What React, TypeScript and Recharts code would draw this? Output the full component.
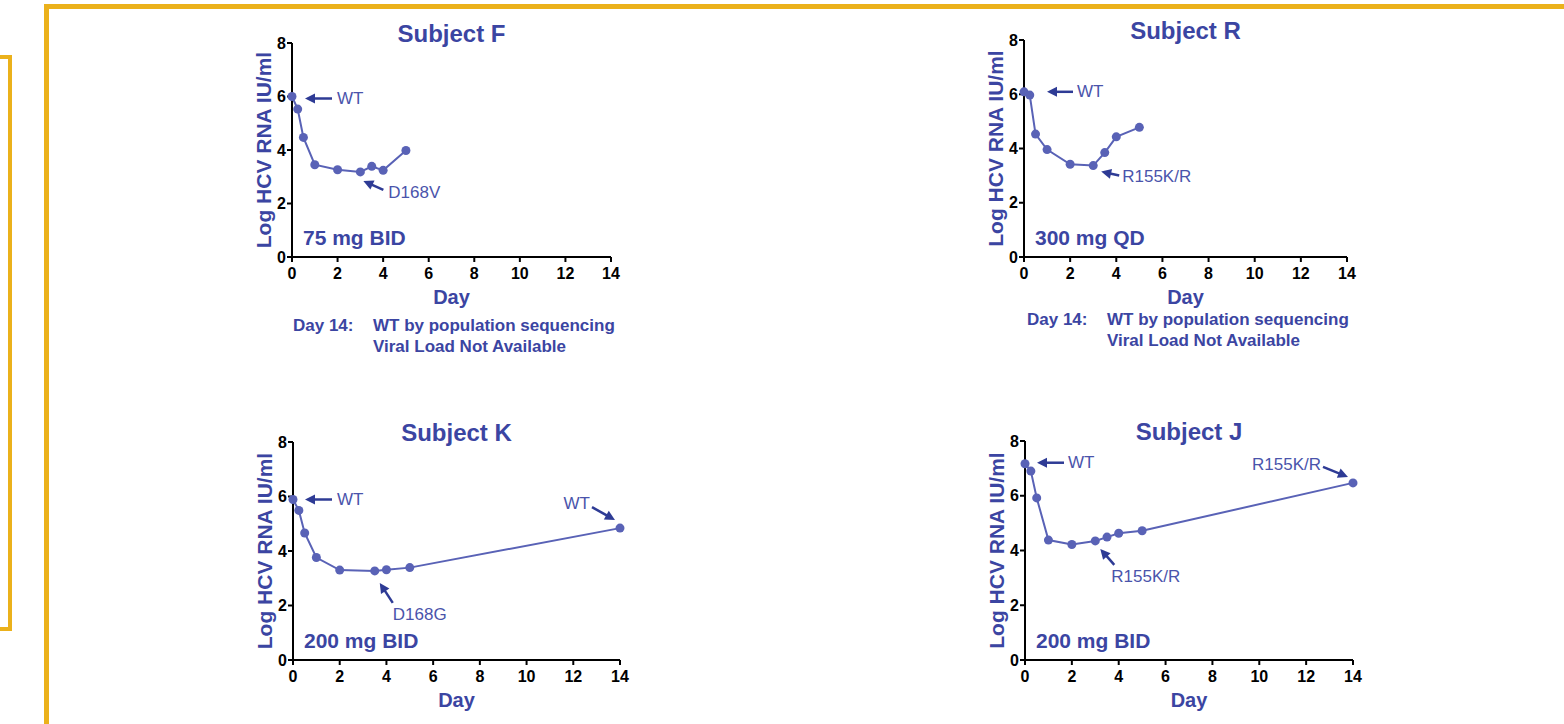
import { LineChart, Line, XAxis, YAxis, ReferenceDot } from 'recharts'

// HCV RNA viral load by day, one small series per subject
const DAYS_F = [0, 0.25, 0.5, 1, 2, 3, 3.5, 4, 5]
const LOAD_F = [6.0, 5.53, 4.47, 3.45, 3.26, 3.18, 3.39, 3.24, 3.98]

const DAYS_R = [0, 0.25, 0.5, 1, 2, 3, 3.5, 4, 5]
const LOAD_R = [6.09, 5.97, 4.53, 3.96, 3.42, 3.37, 3.85, 4.43, 4.78]

const DAYS_K = [0, 0.25, 0.5, 1, 2, 3.5, 4, 5, 14]
const LOAD_K = [5.89, 5.49, 4.66, 3.76, 3.3, 3.27, 3.31, 3.39, 4.84]

const DAYS_J = [0, 0.25, 0.5, 1, 2, 3, 3.5, 4, 5, 14]
const LOAD_J = [7.17, 6.9, 5.92, 4.38, 4.22, 4.35, 4.49, 4.63, 4.72, 6.47]

const X_TICKS = [0, 2, 4, 6, 8, 10, 12, 14]
const Y_TICKS = [0, 2, 4, 6, 8]

const FONT = "'Liberation Sans', Arial, sans-serif"
const TITLE_BLUE = '#3b45a2'
const LINE_BLUE = '#5962b6'
const ARROW_BLUE = '#2e3b95'
const NOTE_BLUE = '#4a54ab'
const GOLD = '#ebb11b'

type Note = { at: number; label: string; tip: number[]; tail: number[]; text: number[]; anchor?: 'start' | 'end' }

type PanelDef = {
  title: string
  dose: string
  days: number[]
  load: number[]
  notes: Note[]
  // plot rectangle in page pixels
  x0: number
  x1: number
  y0: number
  y1: number
  day14?: number[]
}

const PANELS: PanelDef[] = [
  {
    title: 'Subject F', dose: '75 mg BID', days: DAYS_F, load: LOAD_F,
    x0: 292, x1: 611, y0: 43, y1: 257, day14: [1, 68],
    notes: [
      { at: 0, label: 'WT', tip: [13, 2], tail: [40, 2], text: [45, 2] },
      { at: 5, label: 'D168V', tip: [3, 9], tail: [23, 18], text: [28, 21] },
    ],
  },
  {
    title: 'Subject R', dose: '300 mg QD', days: DAYS_R, load: LOAD_R,
    x0: 1024, x1: 1347, y0: 40, y1: 257, day14: [3, 62],
    notes: [
      { at: 0, label: 'WT', tip: [23, 0], tail: [49, 0], text: [53, 0] },
      { at: 5, label: 'R155K/R', tip: [8, 6], tail: [26, 10], text: [29, 11] },
    ],
  },
  {
    title: 'Subject K', dose: '200 mg BID', days: DAYS_K, load: LOAD_K,
    x0: 293, x1: 620, y0: 442, y1: 660,
    notes: [
      { at: 0, label: 'WT', tip: [12, 0], tail: [39, 0], text: [44, 0] },
      { at: 5, label: 'D168G', tip: [5, 12], tail: [18, 32], text: [18, 44] },
      { at: 8, label: 'WT', tip: [-5, -8], tail: [-28, -21], text: [-30, -25], anchor: 'end' },
    ],
  },
  {
    title: 'Subject J', dose: '200 mg BID', days: DAYS_J, load: LOAD_J,
    x0: 1025, x1: 1353, y0: 441, y1: 660,
    notes: [
      { at: 0, label: 'WT', tip: [12, -1], tail: [39, -1], text: [43, -1] },
      { at: 5, label: 'R155K/R', tip: [5, 8], tail: [19, 24], text: [16, 36] },
      { at: 9, label: 'R155K/R', tip: [-5, -6], tail: [-30, -16], text: [-32, -18], anchor: 'end' },
    ],
  },
]

function Arrow({ cx, cy, note }: { cx: number; cy: number; note: Note }) {
  const tx = cx + note.tip[0]
  const ty = cy + note.tip[1]
  const sx = cx + note.tail[0]
  const sy = cy + note.tail[1]
  const len = Math.hypot(tx - sx, ty - sy)
  const ux = (tx - sx) / len
  const uy = (ty - sy) / len
  const bx = tx - ux * 10
  const by = ty - uy * 10
  const head = `${tx},${ty} ${bx - uy * 5},${by + ux * 5} ${bx + uy * 5},${by - ux * 5}`
  return (
    <g>
      <line x1={sx} y1={sy} x2={bx + ux} y2={by + uy} stroke={ARROW_BLUE} strokeWidth={2.5} />
      <polygon points={head} fill={ARROW_BLUE} />
      <text
        x={cx + note.text[0]}
        y={cy + note.text[1]}
        dominantBaseline="central"
        textAnchor={note.anchor ?? 'start'}
        fill={NOTE_BLUE}
        fontSize={17}
        fontFamily={FONT}
      >
        {note.label}
      </text>
    </g>
  )
}

const YW = 62
const MR = 20
const MT = 10
const XH = 50
const MB = 10

function TickText({ x, y, payload, anchor, dy }: any) {
  return (
    <text
      x={x}
      y={y}
      dy={dy}
      textAnchor={anchor}
      fill="#000"
      fontSize={16}
      fontWeight="bold"
      fontFamily={FONT}
    >
      {payload.value}
    </text>
  )
}

function Panel({ p }: { p: PanelDef }) {
  const data = p.days.map((day, i) => ({ day, load: p.load[i] }))
  const w = p.x1 - p.x0 + YW + MR
  const h = p.y1 - p.y0 + MT + XH + MB
  const axisLine = { stroke: '#000', strokeWidth: 2 }
  return (
    <div style={{ position: 'absolute', left: p.x0 - YW, top: p.y0 - MT }}>
      <LineChart width={w} height={h} data={data} margin={{ top: MT, right: MR, bottom: MB, left: 0 }}>
        <XAxis
          dataKey="day"
          type="number"
          domain={[0, 14]}
          ticks={X_TICKS}
          interval={0}
          height={XH}
          tick={(props: any) => <TickText {...props} anchor="middle" dy={17} />}
          tickSize={5}
          tickMargin={0}
          axisLine={axisLine}
          tickLine={axisLine}
        />
        <YAxis
          type="number"
          domain={[0, 8]}
          ticks={Y_TICKS}
          interval={0}
          width={YW}
          tick={(props: any) => <TickText {...props} anchor="end" dy={5.5} />}
          tickSize={5}
          tickMargin={1}
          axisLine={axisLine}
          tickLine={axisLine}
        />
        <Line
          type="linear"
          dataKey="load"
          stroke={LINE_BLUE}
          strokeWidth={2}
          dot={{ r: 4.5, fill: LINE_BLUE, stroke: LINE_BLUE, strokeWidth: 0 }}
          isAnimationActive={false}
        />
        {p.notes.map((n, i) => (
          <ReferenceDot
            key={i}
            x={p.days[n.at]}
            y={p.load[n.at]}
            r={0}
            ifOverflow="visible"
            shape={(props: any) => <Arrow cx={props.cx} cy={props.cy} note={n} />}
          />
        ))}
      </LineChart>
    </div>
  )
}

function Labels({ p }: { p: PanelDef }) {
  const cx = (p.x0 + p.x1) / 2
  const cy = (p.y0 + p.y1) / 2
  return (
    <g fontFamily={FONT} fontWeight="bold" fill={TITLE_BLUE}>
      <text x={cx} y={p.y0 - 10} textAnchor="middle" dominantBaseline="central" fontSize={24}>
        {p.title}
      </text>
      <text
        x={p.x0 - 29}
        y={cy}
        textAnchor="middle"
        dominantBaseline="central"
        fontSize={21}
        transform={`rotate(-90 ${p.x0 - 29} ${cy})`}
      >
        Log HCV RNA IU/ml
      </text>
      <text x={cx} y={p.y1 + 40} textAnchor="middle" dominantBaseline="central" fontSize={20}>
        Day
      </text>
      <text x={p.x0 + 11} y={p.y1 - 20} dominantBaseline="central" fontSize={21}>
        {p.dose}
      </text>
      {p.day14 && (
        <g fontSize={17}>
          <text x={p.x0 + p.day14[0]} y={p.y1 + p.day14[1]} dominantBaseline="central">
            Day 14:
          </text>
          <text x={p.x0 + p.day14[0] + 80} y={p.y1 + p.day14[1]} dominantBaseline="central">
            WT by population sequencing
          </text>
          <text x={p.x0 + p.day14[0] + 80} y={p.y1 + p.day14[1] + 21} dominantBaseline="central">
            Viral Load Not Available
          </text>
        </g>
      )}
    </g>
  )
}

export default function App() {
  return (
    <div style={{ position: 'absolute', left: 0, top: 0, width: 1564, height: 724, background: '#fff', overflow: 'hidden' }}>
      <svg width={1564} height={724} style={{ position: 'absolute', left: 0, top: 0 }}>
        <rect x={-100} y={57} width={110} height={572} fill="none" stroke={GOLD} strokeWidth={4} />
        <rect x={46.5} y={6.5} width={1700} height={900} fill="none" stroke={GOLD} strokeWidth={5} />
        {PANELS.map((p) => (
          <Labels key={p.title} p={p} />
        ))}
      </svg>
      {PANELS.map((p) => (
        <Panel key={p.title} p={p} />
      ))}
    </div>
  )
}
